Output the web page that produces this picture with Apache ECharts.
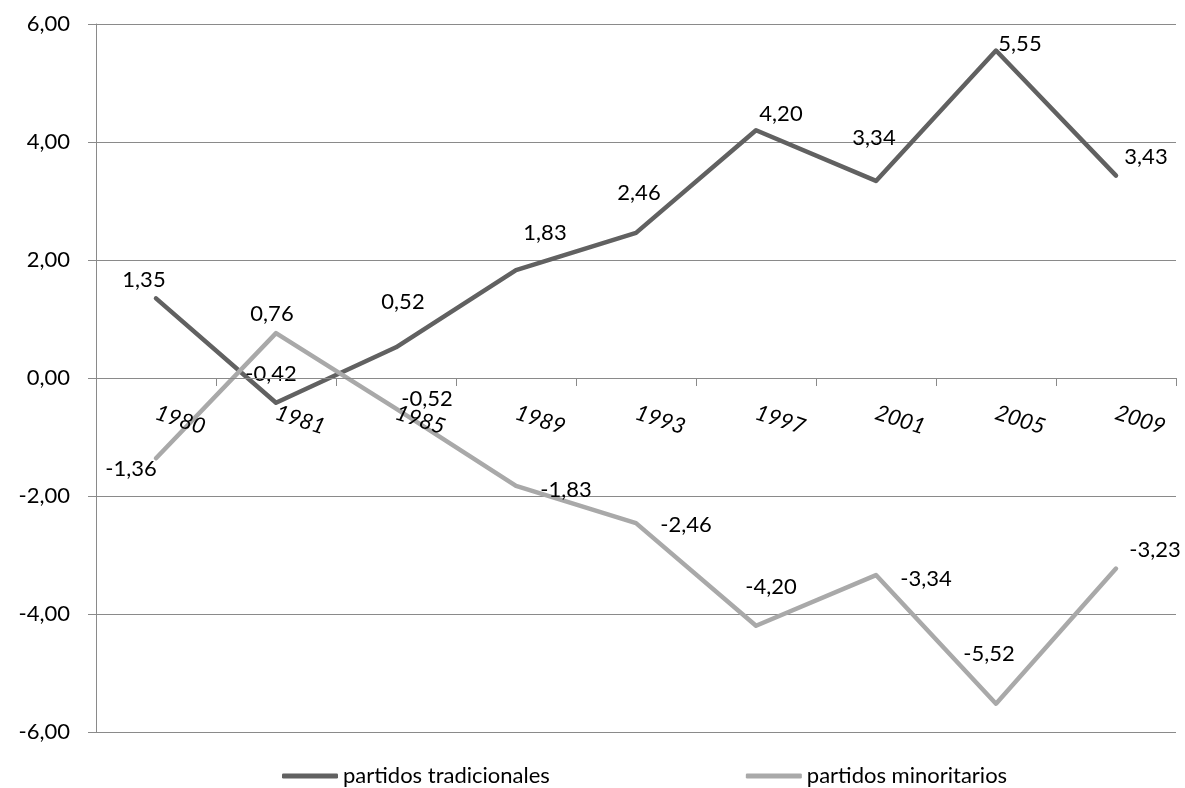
<!DOCTYPE html>
<html lang="es">
<head>
<meta charset="UTF-8">
<title>partidos</title>
<script src="https://cdn.jsdelivr.net/npm/echarts@6/dist/echarts.min.js"></script>
<style>
  html, body { margin: 0; padding: 0; background: #fff; }
  #main { width: 1185px; height: 788px; }
</style>
</head>
<body>
<div id="main"></div>
<script>
var years = ['1980', '1981', '1985', '1989', '1993', '1997', '2001', '2005', '2009'];
var tradicionales = [1.35, -0.42, 0.52, 1.83, 2.46, 4.20, 3.34, 5.55, 3.43];
var minoritarios = [-1.36, 0.76, -0.52, -1.83, -2.46, -4.20, -3.34, -5.52, -3.23];
var seriesNames = ['partidos tradicionales', 'partidos minoritarios'];

// where each value label sits relative to its point
var tradLabelOffset = [[-12, -18], [-5, -29], [7, -45], [29, -37], [3, -40], [25, -16], [-2, -43], [24, -7], [30, -19]];
var minoLabelOffset = [[-25, 11], [-4, -19], [31, -10], [50, 4], [50, 2], [15, -39], [50, 4], [-7, -50], [39, -19]];

var FONT = 'Lato';
function fmt(v) { return v.toFixed(2).replace('.', ','); }

function withLabels(values, offsets) {
    return values.map(function (v, i) {
        return { value: v, label: { offset: offsets[i] } };
    });
}

var myChart = echarts.init(document.getElementById('main'));

var option = {
    animation: false,
    grid: { left: 96, right: 9, top: 24, bottom: 56, containLabel: false, outerBoundsMode: 'none' },
    legend: {
        data: seriesNames,
        left: 277,
        top: 760,
        icon: 'roundRect',
        itemWidth: 56,
        itemHeight: 5,
        itemGap: 196,
        textStyle: { fontFamily: FONT, fontSize: 22, color: '#000' }
    },
    xAxis: {
        type: 'category',
        data: years,
        boundaryGap: true,
        z: 5,
        // axis sits on the zero line (half way up the grid)
        offset: -354,
        axisLine: { onZero: false, lineStyle: { color: '#8a8a8a', width: 1 } },
        axisTick: { show: true, interval: 0, length: 8, lineStyle: { color: '#8a8a8a' } },
        axisLabel: {
            interval: 0,
            rotate: -18,
            margin: 34,
            fontFamily: FONT,
            fontSize: 22,
            fontStyle: 'italic',
            color: '#000'
        },
        splitLine: { show: false }
    },
    yAxis: {
        type: 'value',
        min: -6,
        max: 6,
        interval: 2,
        axisLine: { show: true, lineStyle: { color: '#8a8a8a', width: 1 } },
        axisTick: { show: true, length: 8, lineStyle: { color: '#8a8a8a' } },
        axisLabel: { formatter: fmt, fontFamily: FONT, fontSize: 22, color: '#000', margin: 26 },
        splitLine: { show: true, lineStyle: { color: '#8a8a8a', width: 1 } }
    },
    series: [{
        name: seriesNames[0],
        type: 'line',
        data: withLabels(tradicionales, tradLabelOffset),
        symbol: 'circle',
        symbolSize: 3,
        itemStyle: { color: '#616161' },
        lineStyle: { color: '#616161', width: 4.5, cap: 'round', join: 'round' },
        label: { show: true, position: 'inside', formatter: function (p) { return fmt(p.value); }, fontFamily: FONT, fontSize: 22, color: '#000' },
        emphasis: { disabled: true },
        z: 2
    }, {
        name: seriesNames[1],
        type: 'line',
        data: withLabels(minoritarios, minoLabelOffset),
        symbol: 'circle',
        symbolSize: 3,
        itemStyle: { color: '#a9a9a9' },
        lineStyle: { color: '#a9a9a9', width: 4.5, cap: 'round', join: 'round' },
        label: { show: true, position: 'inside', formatter: function (p) { return fmt(p.value); }, fontFamily: FONT, fontSize: 22, color: '#000' },
        emphasis: { disabled: true },
        z: 3
    }]
};
myChart.setOption(option);
</script>
</body>
</html>
